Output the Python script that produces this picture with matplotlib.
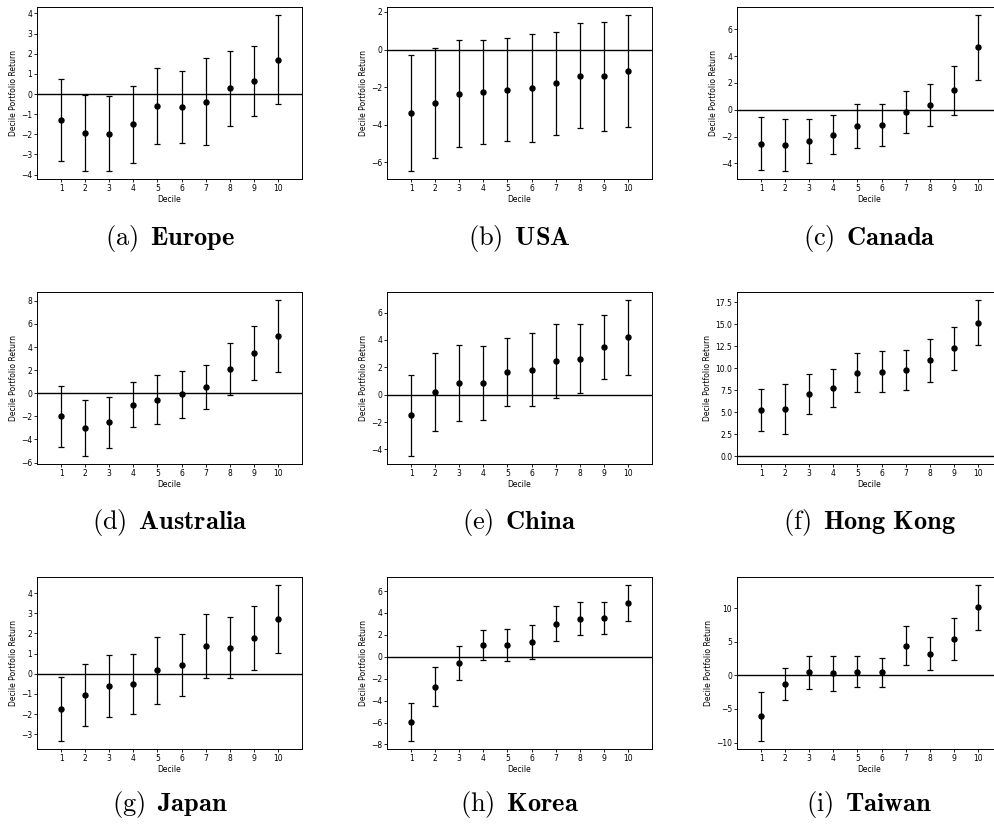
import numpy as np
import matplotlib
matplotlib.use("Agg")
import matplotlib.pyplot as plt

plt.rcParams['mathtext.fontset'] = 'cm'

# DATA
deciles = np.arange(1, 11)

regions = ["Europe", "USA", "Canada", "Australia", "China",
           "Hong Kong", "Japan", "Korea", "Taiwan"]
letters = ["a", "b", "c", "d", "e", "f", "g", "h", "i"]

europe_mean = [-1.28, -1.94, -1.97, -1.51, -0.58, -0.65, -0.38, 0.28, 0.65, 1.71]
europe_err = [2.02, 1.87, 1.86, 1.91, 1.89, 1.77, 2.15, 1.85, 1.74, 2.22]

usa_mean = [-3.39, -2.82, -2.34, -2.27, -2.13, -2.05, -1.79, -1.38, -1.41, -1.13]
usa_err = [3.08, 2.93, 2.84, 2.78, 2.74, 2.88, 2.73, 2.80, 2.90, 2.98]

canada_mean = [-2.53, -2.65, -2.35, -1.85, -1.20, -1.15, -0.18, 0.35, 1.45, 4.65]
canada_err = [1.97, 1.93, 1.64, 1.46, 1.62, 1.58, 1.57, 1.53, 1.83, 2.42]

australia_mean = [-2.00, -3.01, -2.52, -0.99, -0.55, -0.09, 0.52, 2.06, 3.51, 4.96]
australia_err = [2.66, 2.44, 2.19, 1.95, 2.12, 2.02, 1.90, 2.25, 2.32, 3.13]

china_mean = [-1.51, 0.20, 0.85, 0.88, 1.66, 1.83, 2.46, 2.63, 3.51, 4.20]
china_err = [2.98, 2.82, 2.80, 2.71, 2.45, 2.67, 2.68, 2.52, 2.34, 2.73]

hongkong_mean = [5.23, 5.39, 7.11, 7.76, 9.51, 9.63, 9.82, 10.93, 12.30, 15.20]
hongkong_err = [2.37, 2.85, 2.30, 2.18, 2.18, 2.30, 2.24, 2.46, 2.44, 2.60]

japan_mean = [-1.74, -1.06, -0.60, -0.51, 0.17, 0.45, 1.38, 1.29, 1.76, 2.71]
japan_err = [1.60, 1.55, 1.52, 1.50, 1.65, 1.53, 1.60, 1.52, 1.58, 1.70]

korea_mean = [-5.94, -2.72, -0.58, 1.10, 1.10, 1.35, 3.00, 3.49, 3.55, 4.90]
korea_err = [1.76, 1.75, 1.53, 1.35, 1.45, 1.52, 1.60, 1.52, 1.44, 1.67]

taiwan_mean = [-6.12, -1.29, 0.45, 0.30, 0.50, 0.45, 4.43, 3.23, 5.37, 10.10]
taiwan_err = [3.68, 2.31, 2.46, 2.63, 2.30, 2.19, 2.90, 2.50, 3.10, 3.36]

means = [europe_mean, usa_mean, canada_mean, australia_mean, china_mean,
         hongkong_mean, japan_mean, korea_mean, taiwan_mean]
errors = [europe_err, usa_err, canada_err, australia_err, china_err,
          hongkong_err, japan_err, korea_err, taiwan_err]

# LAYOUT (pixels, measured from top-left of the 995x825 picture)
W, H = 995, 825
col_left = [37, 387, 737]
ax_w = 265
row_top = [7, 292, 577]
ax_h = 172
caption_y = [238, 523, 805]

fig = plt.figure(figsize=(W / 100, H / 100), dpi=100)

for k, region in enumerate(regions):
    r, c = divmod(k, 3)
    left = col_left[c] / W
    bottom = 1 - (row_top[r] + ax_h) / H
    ax = fig.add_axes([left, bottom, ax_w / W, ax_h / H])

    ax.axhline(0, color='black', linewidth=1.0)
    ax.errorbar(deciles, means[k], yerr=errors[k], fmt='o', color='black',
                markersize=3.6, elinewidth=0.9, capsize=2.3, capthick=0.9)

    ax.set_xlim(0, 11)
    ax.set_xticks(deciles)
    ax.set_xlabel('Decile', fontsize=5.5, labelpad=1.5)
    ax.set_ylabel('Decile Portfolio Return', fontsize=5.5, labelpad=2)
    ax.tick_params(labelsize=5.5, length=2, width=0.6, pad=1.5)
    for spine in ax.spines.values():
        spine.set_linewidth(0.7)

    # caption under each panel, LaTeX-like
    name = region.replace(' ', r'\ ')
    caption = r'$\mathrm{(%s)}\ \,\mathbf{%s}$' % (letters[k], name)
    fig.text((col_left[c] + ax_w / 2) / W, 1 - caption_y[r] / H, caption,
             ha='center', va='center', fontsize=19)

fig.savefig('out.png', dpi=100)
